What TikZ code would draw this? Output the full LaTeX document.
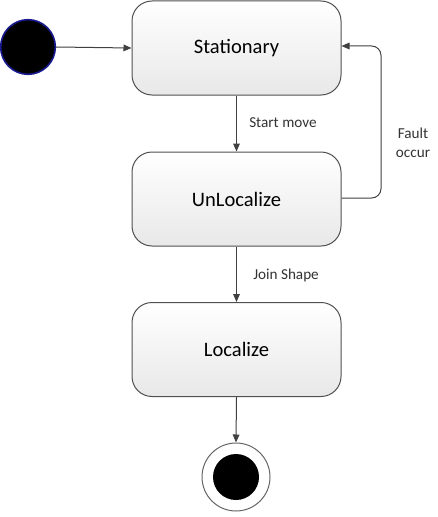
\documentclass[tikz,border=0pt]{standalone}
\usepackage{fontspec}
\setmainfont{Carlito}
\usetikzlibrary{arrows.meta,positioning}
\definecolor{linec}{HTML}{404040}
\definecolor{boxline}{HTML}{505050}
\definecolor{startblue}{HTML}{1A1A90}
\tikzset{
  statebox/.style={draw=boxline, line width=0.75pt, rounded corners=15pt,
    top color=white, bottom color=black!9, minimum width=156.75pt, minimum height=70.5pt,
    font=\fontsize{15.4}{18}\selectfont, inner sep=0pt},
  conn/.style={draw=linec, line width=0.75pt, -{Triangle[length=6pt,width=5pt]}},
  lbl/.style={font=\fontsize{11.4}{14}\selectfont, text=black!80, inner sep=0pt}
}
\begin{document}
\begin{tikzpicture}[x=0.75pt,y=-0.75pt]
\useasboundingbox (0,0) rectangle (437,517);
\fill[white] (0,0) rectangle (437,517);
% start
\node[circle, fill=black, draw=startblue, line width=1.2pt, minimum size=41pt, inner sep=0pt] (start) at (28,47) {};
% states
\node[statebox] (stat) at (236.5,48) {Stationary};
\node[statebox] (unloc) at (236.5,199) {UnLocalize};
\node[statebox] (loc) at (236.5,349.5) {Localize};
% end
\node[circle, draw=black!60, line width=0.75pt, fill=white, minimum size=51pt, inner sep=0pt] (endo) at (236,477) {};
\node[circle, fill=black, minimum size=34.5pt, inner sep=0pt] (endi) at (236,477) {};
% connectors
\draw[conn] (start.east) -- (stat.west);
\draw[conn] (stat.south) -- (unloc.north);
\draw[conn] (unloc.south) -- (loc.north);
\draw[conn] (loc.south) -- (endo.north);
\coordinate (fa) at (381,198);
\coordinate (fb) at (381,46);
\draw[conn, rounded corners=7pt] (unloc.east |- 0,198) -- (fa) -- (fb) -- (stat.east |- 0,46);
% labels
\node[lbl, anchor=west] (l1) at (249,123) {Start move};
\node[lbl, anchor=west] (l2) at (253,275) {Join Shape};
\node[lbl, align=center] (l3) at (413,143) {Fault\\occur};
\end{tikzpicture}
\end{document}
